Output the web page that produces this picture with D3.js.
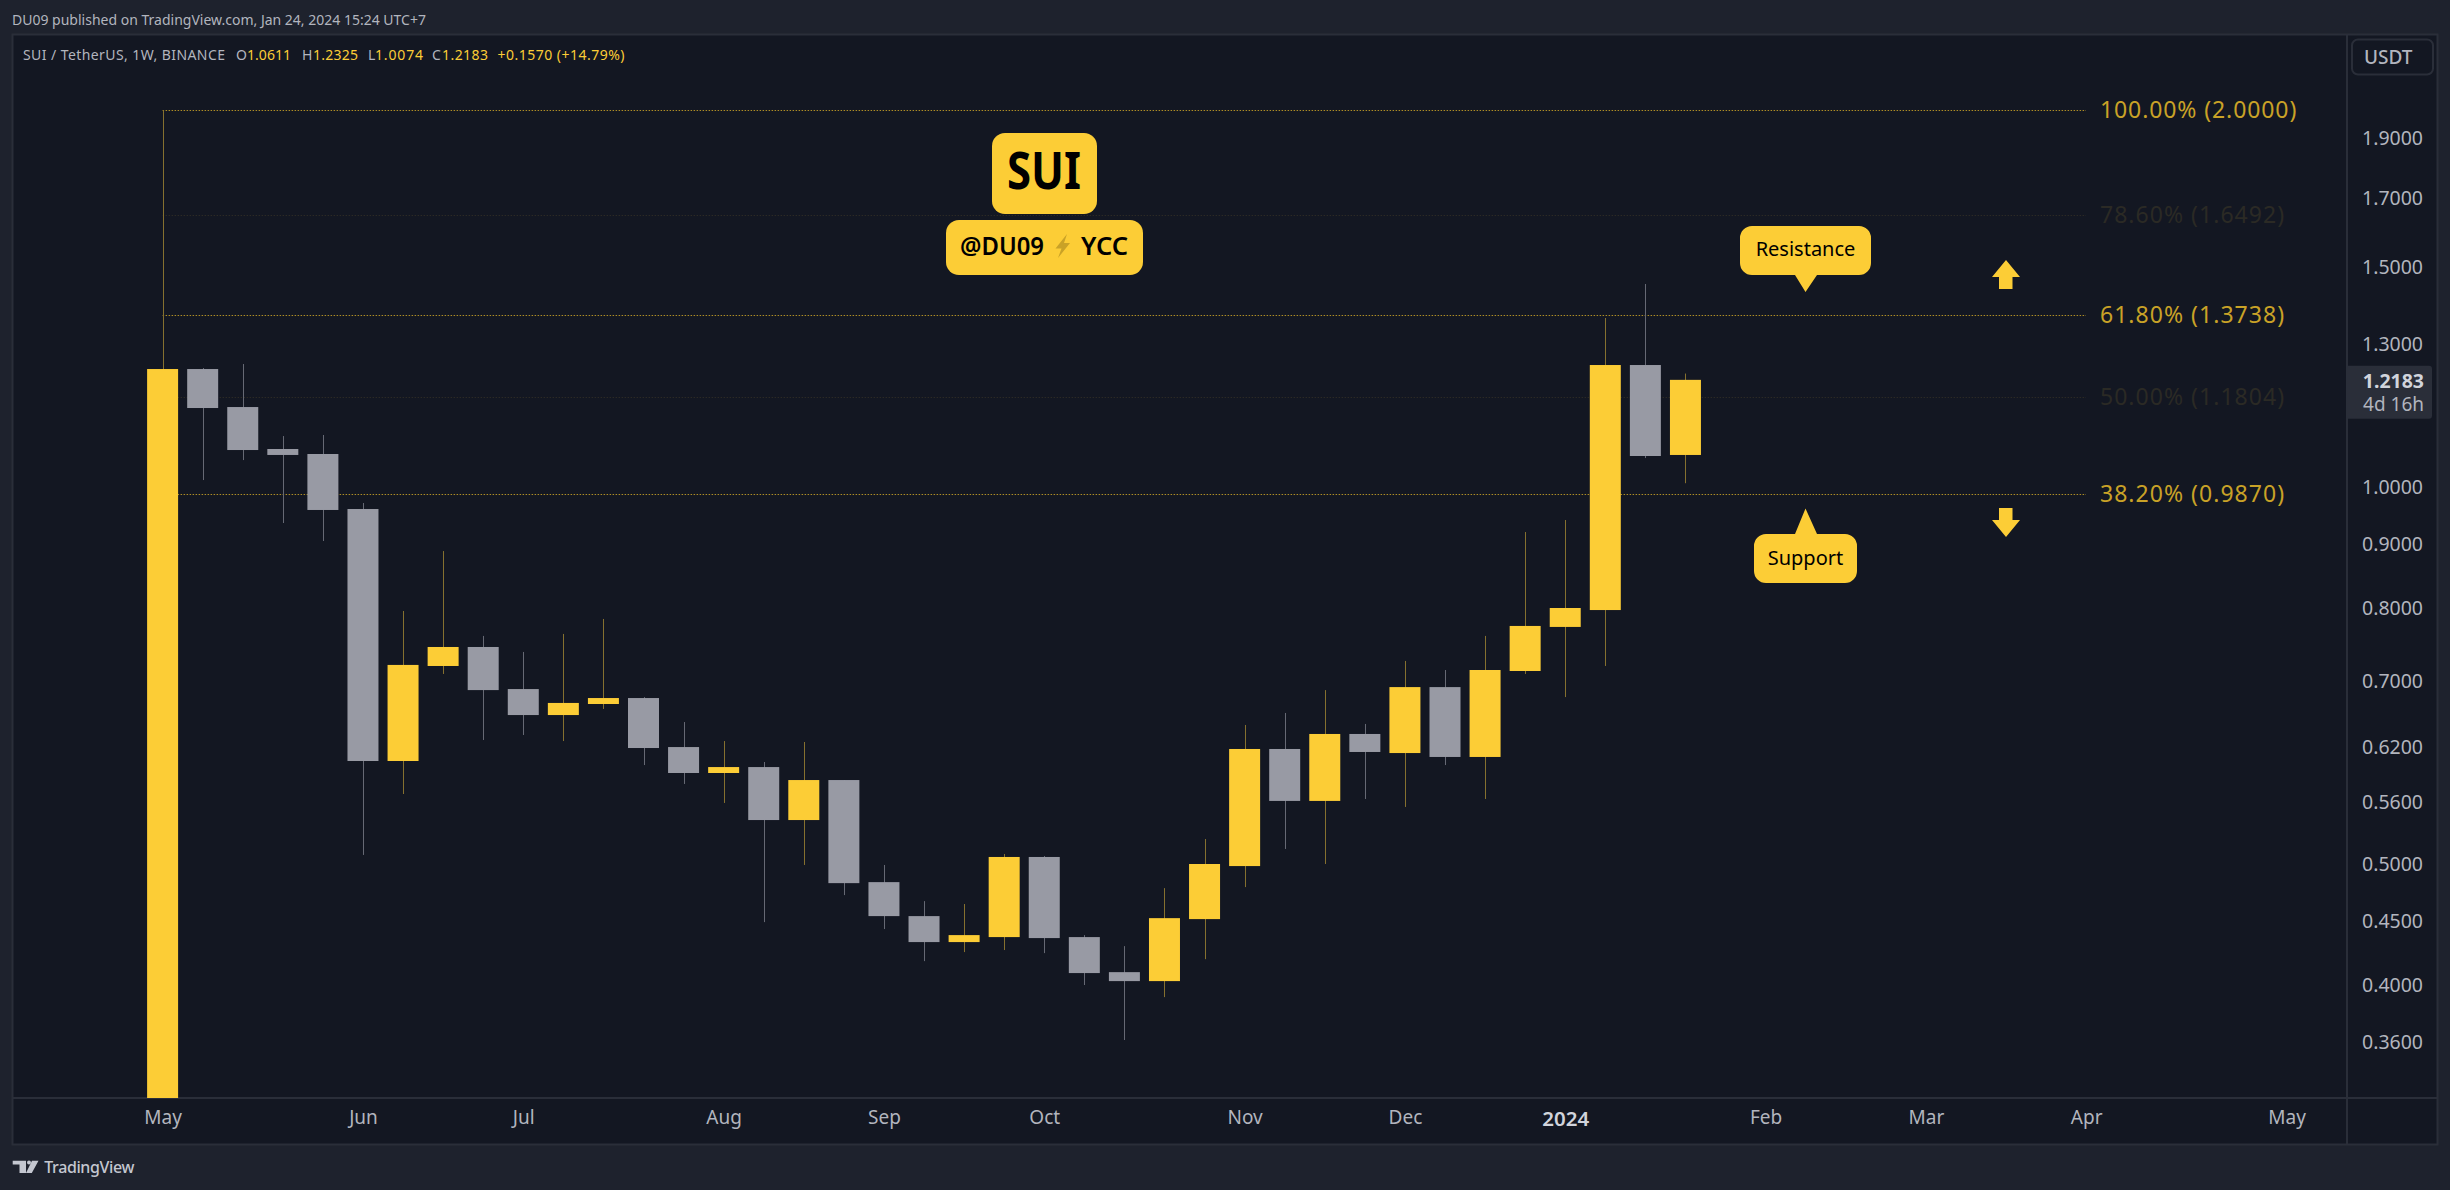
<!DOCTYPE html>
<html>
<head>
<meta charset="utf-8">
<script src="https://cdn.jsdelivr.net/npm/d3@7"></script>
<style>
  html, body { margin: 0; padding: 0; background: #1e222d; }
  svg { display: block; }
  text { font-family: "Noto Sans", sans-serif; }
</style>
</head>
<body>
<div id="root"></div>
<script>
// weekly candles
var opens  = [0.10, 1.2428, 1.1589, 1.0728, 1.0630, 0.9607, 0.6044, 0.7198, 0.7454, 0.6899, 0.6577, 0.6712, 0.6786, 0.6201, 0.5912, 0.5977, 0.5422, 0.5836, 0.4837, 0.4544, 0.4332, 0.4372, 0.5066, 0.4372, 0.4099, 0.4032, 0.4519, 0.4982, 0.6179, 0.5616, 0.6352, 0.6133, 0.6924, 0.6089, 0.7132, 0.7734, 0.7978, 1.2520, 1.0611];
var highs  = [2.0, 1.2451, 1.2543, 1.0987, 1.1008, 0.9714, 0.7964, 0.8892, 0.7607, 0.7386, 0.7635, 0.7848, 0.6798, 0.6493, 0.6270, 0.6033, 0.6259, 0.5836, 0.4992, 0.4671, 0.4646, 0.5094, 0.5075, 0.4388, 0.4300, 0.4784, 0.5236, 0.6458, 0.6602, 0.6886, 0.6470, 0.7265, 0.7145, 0.7607, 0.9209, 0.9415, 1.3651, 1.4532, 1.2325];
var lows   = [0.10, 1.0133, 1.0512, 0.9363, 0.9058, 0.5085, 0.5688, 0.7093, 0.6282, 0.6340, 0.6270, 0.6651, 0.5999, 0.5794, 0.5595, 0.4494, 0.4992, 0.4723, 0.4437, 0.4183, 0.4253, 0.4269, 0.4245, 0.4003, 0.3618, 0.3915, 0.4198, 0.4793, 0.5141, 0.5001, 0.5636, 0.5554, 0.5999, 0.5636, 0.7093, 0.6798, 0.7198, 1.0551, 1.0074];
var closes = [1.2428, 1.1568, 1.0708, 1.0611, 0.9590, 0.6044, 0.7212, 0.7454, 0.6886, 0.6577, 0.6725, 0.6786, 0.6190, 0.5912, 0.5977, 0.5422, 0.5836, 0.4828, 0.4544, 0.4332, 0.4388, 0.5066, 0.4364, 0.4092, 0.4032, 0.4527, 0.5001, 0.6179, 0.5616, 0.6352, 0.6145, 0.6924, 0.6089, 0.7145, 0.7748, 0.8008, 1.2520, 1.0591, 1.2183];

var priceTicks = [1.9, 1.7, 1.5, 1.3, 1.0, 0.9, 0.8, 0.7, 0.62, 0.56, 0.5, 0.45, 0.4, 0.36];

var monthWeeks  = [0, 5, 9, 14, 18, 22, 27, 31, 35, 40, 44, 48, 53];
var monthLabels = ["May", "Jun", "Jul", "Aug", "Sep", "Oct", "Nov", "Dec", "2024", "Feb", "Mar", "Apr", "May"];

var fibPercents = ["100.00%", "78.60%", "61.80%", "50.00%", "38.20%"];
var fibPrices   = [2.0, 1.6492, 1.3738, 1.1804, 0.9870];
var fibFaint    = [false, true, false, true, false];

var lastPrice = 1.2183;

var yellow = "#fccd36", grey = "#989aa4",
    yellowWick = "#85702f", greyWick = "#666974",
    fibGold = "#c9a227", fibDim = "#2b2a25",
    axisText = "#b2b5be", frame = "#2a2e39", panel = "#131722";

var margin = {top: 35, right: 103, bottom: 92, left: 13},
    width = 2450 - margin.left - margin.right,
    height = 1190 - margin.top - margin.bottom;

var svg = d3.select("#root").append("svg")
    .attr("width", 2450)
    .attr("height", 1190);

svg.append("rect").attr("width", 2450).attr("height", 1190).attr("fill", "#1e222d");

// panel and frame
svg.append("rect")
    .attr("x", margin.left - 0.5).attr("y", margin.top - 0.5)
    .attr("width", 2438 - margin.left).attr("height", 1145 - margin.top)
    .attr("fill", panel).attr("stroke", frame).attr("stroke-width", 2);

svg.append("defs").append("clipPath").attr("id", "plot")
    .append("rect").attr("width", width).attr("height", height);

var g = svg.append("g")
    .attr("transform", "translate(" + margin.left + "," + margin.top + ")");

// week index -> pixel, price -> pixel (log axis)
var x = d3.scaleLinear().domain([0, 38]).range([149.6, 149.6 + 38 * 40.075]);
var y = d3.scaleLog().domain([0.3252, 2.2972]).range([height, 0]);

var bodyWidth = 31;

// x axis
var xAxis = d3.axisBottom(x)
    .tickValues(monthWeeks)
    .tickSize(0)
    .tickPadding(13)
    .tickFormat(function(d, i) { return monthLabels[i]; });

var xg = g.append("g")
    .attr("transform", "translate(0," + height + ")")
    .call(xAxis);
xg.select(".domain").attr("d", "M0,0H" + (width + 90)).attr("stroke", frame).attr("stroke-width", 2);
xg.selectAll("text")
    .attr("fill", function(d, i) { return monthLabels[i] == "2024" ? "#d1d4dc" : axisText; })
    .style("font-size", function(d, i) { return monthLabels[i] == "2024" ? "20.5px" : "19px"; })
    .style("font-family", "'Noto Sans', sans-serif")
    .attr("font-weight", function(d, i) { return monthLabels[i] == "2024" ? 600 : 400; });

// y axis
var yAxis = d3.axisRight(y)
    .tickValues(priceTicks)
    .tickSize(0)
    .tickPadding(15)
    .tickFormat(d3.format(".4f"));

var yg = g.append("g")
    .attr("transform", "translate(" + width + ",0)")
    .call(yAxis);
yg.select(".domain").attr("d", "M0,-1V" + (height + 47)).attr("stroke", frame).attr("stroke-width", 2);
yg.selectAll("text")
    .attr("fill", axisText)
    .style("font-size", "19.5px")
    .style("font-family", "'Noto Sans', sans-serif");

// fib levels
var fibG = g.append("g");

fibG.selectAll("line.level")
    .data(fibPrices)
    .enter().append("line")
    .attr("class", "level")
    .attr("x1", x(0))
    .attr("x2", 2086 - margin.left)
    .attr("y1", function(d) { return Math.round(y(d)) + 0.5; })
    .attr("y2", function(d) { return Math.round(y(d)) + 0.5; })
    .attr("stroke", function(d, i) { return fibFaint[i] ? fibDim : fibGold; })
    .attr("stroke-width", 1)
    .attr("stroke-dasharray", "1.5 1.5")
    .attr("opacity", function(d, i) { return fibFaint[i] ? 1 : 0.85; });

fibG.selectAll("text")
    .data(fibPrices)
    .enter().append("text")
    .attr("x", 2100 - margin.left)
    .attr("y", function(d) { return y(d); })
    .attr("dy", "0.35em")
    .attr("fill", function(d, i) { return fibFaint[i] ? fibDim : fibGold; })
    .style("font-size", "23px")
    .attr("textLength", function(d, i) { return (fibPercents[i].length + 9) * 12.27; })
    .text(function(d, i) { return fibPercents[i] + " (" + d3.format(".4f")(d) + ")"; });

// candles
var candles = g.append("g").attr("clip-path", "url(#plot)");

var isUp = function(i) { return closes[i] >= opens[i]; };

candles.selectAll("line")
    .data(closes)
    .enter().append("line")
    .attr("x1", function(d, i) { return Math.round(x(i)) + 0.5; })
    .attr("x2", function(d, i) { return Math.round(x(i)) + 0.5; })
    .attr("y1", function(d, i) { return y(highs[i]); })
    .attr("y2", function(d, i) { return y(lows[i]); })
    .attr("stroke", function(d, i) { return isUp(i) ? yellowWick : greyWick; })
    .attr("stroke-width", 1);

candles.selectAll("rect")
    .data(closes)
    .enter().append("rect")
    .attr("x", function(d, i) { return x(i) - bodyWidth / 2; })
    .attr("width", bodyWidth)
    .attr("y", function(d, i) { return y(Math.max(opens[i], closes[i])); })
    .attr("height", function(d, i) { return Math.abs(y(opens[i]) - y(closes[i])); })
    .attr("fill", function(d, i) { return isUp(i) ? yellow : grey; });

// current price tag
var tag = g.append("g").attr("transform", "translate(" + (width + 1) + "," + y(lastPrice) + ")");
tag.append("path")
    .attr("d", "M0,-14H81a3,3 0 0 1 3,3V36a3,3 0 0 1 -3,3H0Z")
    .attr("fill", frame);
tag.append("text")
    .attr("x", 76).attr("y", 1).attr("dy", "0.35em")
    .attr("text-anchor", "end")
    .attr("fill", "#d1d4dc")
    .attr("font-weight", 700)
    .style("font-size", "19.5px")
    .text(d3.format(".4f")(lastPrice));
tag.append("text")
    .attr("x", 76).attr("y", 25).attr("dy", "0.35em")
    .attr("text-anchor", "end")
    .attr("fill", axisText)
    .style("font-size", "19px")
    .text("4d 16h");

// header
svg.append("text")
    .attr("x", 12).attr("y", 25)
    .attr("fill", axisText)
    .style("font-size", "14px")
    .text("DU09 published on TradingView.com, Jan 24, 2024 15:24 UTC+7");

// legend line
var legend = svg.append("text").attr("y", 60).style("font-size", "14px");
var legendParts = [
  ["SUI / TetherUS, 1W, BINANCE", 23, axisText, 202], ["O", 236, axisText, 10], ["1.0611", 247, yellow, 44],
  ["H", 302, axisText, 10], ["1.2325", 313, yellow, 45], ["L", 368, axisText, 7], ["1.0074", 375, yellow, 48],
  ["C", 432, axisText, 9], ["1.2183", 442, yellow, 46], ["+0.1570 (+14.79%)", 497.5, yellow, 127]
];
legend.selectAll("tspan")
    .data(legendParts)
    .enter().append("tspan")
    .attr("x", function(d) { return d[1]; })
    .attr("fill", function(d) { return d[2]; })
    .attr("textLength", function(d) { return d[3]; })
    .text(function(d) { return d[0]; });

// USDT button
svg.append("rect")
    .attr("x", 2352).attr("y", 39.5).attr("width", 81).attr("height", 35).attr("rx", 6)
    .attr("fill", "none").attr("stroke", frame).attr("stroke-width", 2);
svg.append("text")
    .attr("x", 2364).attr("y", 64)
    .attr("fill", axisText)
    .style("font-size", "19px").attr("font-weight", 500)
    .text("USDT");

// SUI badges
svg.append("rect")
    .attr("x", 992).attr("y", 133).attr("width", 105).attr("height", 81).attr("rx", 13)
    .attr("fill", yellow);
svg.append("text")
    .attr("x", 1044).attr("y", 189).attr("text-anchor", "middle")
    .attr("fill", "#000").attr("font-weight", 700)
    .style("font-size", "52px")
    .attr("textLength", 74).attr("lengthAdjust", "spacingAndGlyphs")
    .text("SUI");

svg.append("rect")
    .attr("x", 946).attr("y", 220).attr("width", 197).attr("height", 55).attr("rx", 13)
    .attr("fill", yellow);
svg.append("text")
    .attr("x", 960).attr("y", 255)
    .attr("fill", "#000").attr("font-weight", 600)
    .style("font-size", "25px")
    .attr("textLength", 84).attr("lengthAdjust", "spacingAndGlyphs")
    .text("@DU09");
svg.append("path")
    .attr("d", "M1067,234L1055.5,248.5H1061.5L1058,258L1070,243H1064Z")
    .attr("fill", "#c9a227");
svg.append("text")
    .attr("x", 1081).attr("y", 255)
    .attr("fill", "#000").attr("font-weight", 600)
    .style("font-size", "25px")
    .attr("textLength", 47).attr("lengthAdjust", "spacingAndGlyphs")
    .text("YCC");

// callouts
svg.append("path")
    .attr("d", "M1752,226H1859a12,12 0 0 1 12,12V263a12,12 0 0 1 -12,12H1817L1805.5,292L1795,275H1752a12,12 0 0 1 -12,-12V238a12,12 0 0 1 12,-12Z")
    .attr("fill", yellow);
svg.append("text")
    .attr("x", 1805.5).attr("y", 256).attr("text-anchor", "middle")
    .attr("fill", "#000")
    .style("font-size", "20px")
    .text("Resistance");

svg.append("path")
    .attr("d", "M1766,534H1795L1805.5,508.5L1817,534H1845a12,12 0 0 1 12,12V571a12,12 0 0 1 -12,12H1766a12,12 0 0 1 -12,-12V546a12,12 0 0 1 12,-12Z")
    .attr("fill", yellow);
svg.append("text")
    .attr("x", 1805.5).attr("y", 565).attr("text-anchor", "middle")
    .attr("fill", "#000")
    .style("font-size", "20px")
    .text("Support");

// arrows
svg.append("path")
    .attr("d", "M2006,260L2020,277H2012.5V289H1999V277H1992Z")
    .attr("fill", yellow);
svg.append("path")
    .attr("d", "M2006,537L2020,520H2012.5V508H1999V520H1992Z")
    .attr("fill", yellow);

// tradingview mark
svg.append("path")
    .attr("d", "M12.7,1160.7H26V1173H19.5V1164.5H12.7Z M32,1160.7H38.5L31.8,1173H26Z")
    .attr("fill", "#c4c7d0");
svg.append("circle")
    .attr("cx", 29).attr("cy", 1162.6).attr("r", 2)
    .attr("fill", "#c4c7d0");
svg.append("text")
    .attr("x", 44.3).attr("y", 1172.5)
    .attr("fill", "#c4c7d0").attr("font-weight", 500)
    .style("font-size", "16px")
    .attr("textLength", 90)
    .text("TradingView");
</script>
</body>
</html>
